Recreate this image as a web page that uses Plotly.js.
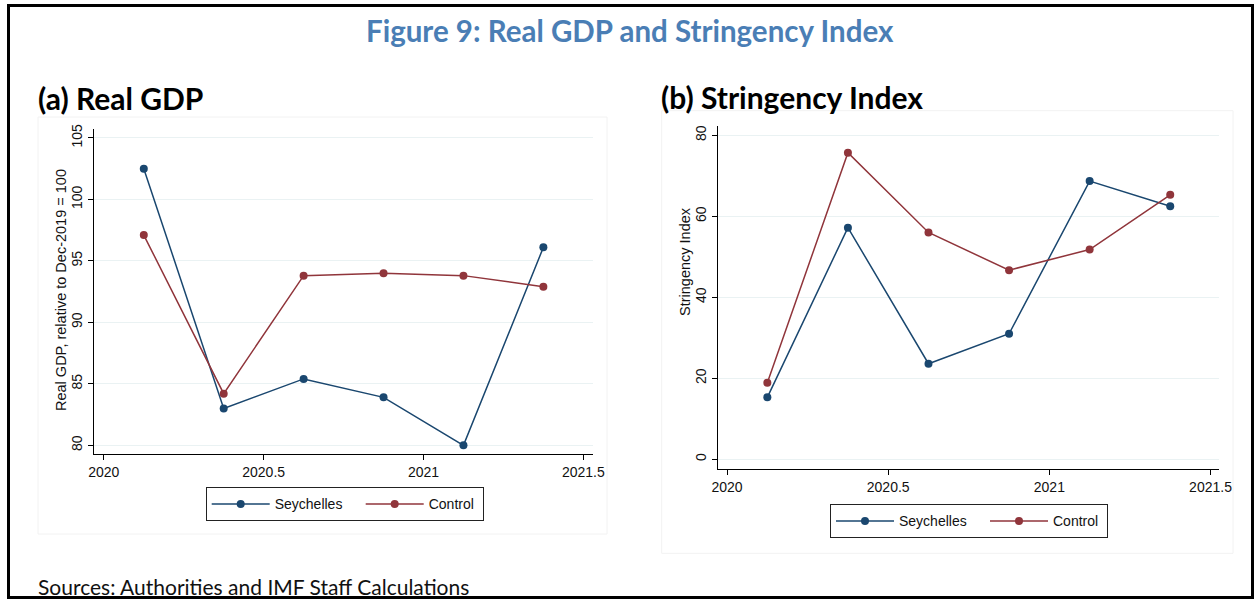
<!DOCTYPE html>
<html>
<head>
<meta charset="utf-8">
<script src="https://cdn.plot.ly/plotly-3.0.1.min.js"></script>
<style>html,body{margin:0;padding:0;background:#fff;overflow:hidden;}#chart{width:1259px;height:599px;}</style>
</head>
<body>
<div id="chart"></div>
<script>
// ---- data ----
const quarters = [2020.125, 2020.375, 2020.625, 2020.875, 2021.125, 2021.375];
const gdpSeychelles = [102.5, 83.0, 85.4, 83.9, 80.0, 96.1];
const gdpControl = [97.1, 84.2, 93.8, 94.0, 93.8, 92.9];
const stringencySeychelles = [15.3, 57.2, 23.6, 31.0, 68.7, 62.5];
const stringencyControl = [18.9, 75.7, 56.0, 46.7, 51.8, 65.3];
const xTicks = [2020, 2020.5, 2021, 2021.5];
const xTickLabels = ['2020', '2020.5', '2021', '2021.5'];
const gdpTicks = [80, 85, 90, 95, 100, 105];
const stringencyTicks = [0, 20, 40, 60, 80];
const seriesNames = ['Seychelles', 'Control'];

// ---- layout helpers ----
const W = 1259, H = 599;
const px = v => v / W;
const py = v => 1 - v / H;
const navy = '#1a476f', maroon = '#90353b';
const tickFont = {family: 'Liberation Sans, Arial, sans-serif', size: 14, color: '#111'};
const legendWidths = [81, 49];

function trace(x, y, i, color, xa, ya, lg) {
  return {x: x, y: y, name: seriesNames[i], type: 'scatter', mode: 'lines+markers',
    line: {color: color, width: 1.5}, marker: {color: color, size: 8},
    legendwidth: legendWidths[i],
    xaxis: xa, yaxis: ya, legend: lg, hoverinfo: 'x+y+name'};
}

const data = [
  trace(quarters, gdpSeychelles, 0, navy, 'x', 'y', 'legend'),
  trace(quarters, gdpControl, 1, maroon, 'x', 'y', 'legend'),
  trace(quarters, stringencySeychelles, 0, navy, 'x2', 'y2', 'legend2'),
  trace(quarters, stringencyControl, 1, maroon, 'x2', 'y2', 'legend2')
];

function xAxis(domain, range, anchor) {
  return {domain: domain, range: range, anchor: anchor, tickmode: 'array',
    tickvals: xTicks, ticktext: xTickLabels, showgrid: false, zeroline: false,
    showline: true, linecolor: '#000', linewidth: 1, ticks: 'outside', ticklen: 5,
    tickcolor: '#000', tickfont: tickFont, fixedrange: true, automargin: false};
}
function yAxis(domain, range, anchor, vals) {
  return {domain: domain, range: range, anchor: anchor, tickmode: 'array',
    tickvals: vals, showgrid: true, gridcolor: '#eaf2f3', gridwidth: 1,
    zeroline: false, showline: true, linecolor: '#000', linewidth: 1,
    ticks: 'outside', ticklen: 5, tickcolor: '#000', tickangle: -90,
    tickfont: tickFont, fixedrange: true, automargin: false};
}

const legendCommon = {orientation: 'h', bordercolor: '#222', borderwidth: 1,
  bgcolor: '#fff', font: {family: 'Liberation Sans, Arial, sans-serif', size: 14, color: '#111'},
  itemwidth: 58, xanchor: 'left', yanchor: 'top', itemclick: false, itemdoubleclick: false};

const layout = {
  width: W, height: H, autosize: false,
  margin: {l: 0, r: 0, t: 0, b: 0, autoexpand: false},
  paper_bgcolor: '#fff', plot_bgcolor: '#fff',
  showlegend: true,
  xaxis: xAxis([px(93.6), px(592.6)], [2019.968, 2021.529], 'y'),
  yaxis: yAxis([py(454.3), py(129.3)], [79.27, 105.7], 'x', gdpTicks),
  xaxis2: xAxis([px(717.7), px(1218.9)], [2019.971, 2021.526], 'y2'),
  yaxis2: yAxis([py(469), py(126)], [-2.4, 82.3], 'x2', stringencyTicks),
  legend: Object.assign({}, legendCommon, {x: px(205.7), y: py(487.3)}),
  legend2: Object.assign({}, legendCommon, {x: px(830), y: py(504.3)}),
  shapes: [
    {type: 'rect', xref: 'paper', yref: 'paper', x0: px(38), x1: px(607), y0: py(534), y1: py(117),
      line: {color: '#f2f2f2', width: 1}, layer: 'below'},
    {type: 'rect', xref: 'paper', yref: 'paper', x0: px(661.7), x1: px(1233), y0: py(553.3), y1: py(110.7),
      line: {color: '#f2f2f2', width: 1}, layer: 'below'},
    {type: 'rect', xref: 'paper', yref: 'paper', x0: px(8.5), x1: px(1252.5), y0: py(597.5), y1: py(5.5),
      line: {color: '#000', width: 3}}
  ],
  annotations: [
    {text: '<b>Figure 9: Real GDP and Stringency Index</b>', xref: 'paper', yref: 'paper',
      x: px(630), y: py(30), xanchor: 'center', yanchor: 'middle', showarrow: false,
      font: {family: 'Lato, sans-serif', size: 29.5, color: '#4a7eb5'}},
    {text: '<b>(a) Real GDP</b>', xref: 'paper', yref: 'paper', x: px(36), y: py(98),
      xanchor: 'left', yanchor: 'middle', showarrow: false,
      font: {family: 'Lato, sans-serif', size: 30, color: '#000'}},
    {text: '<b>(b) Stringency Index</b>', xref: 'paper', yref: 'paper', x: px(659), y: py(97),
      xanchor: 'left', yanchor: 'middle', showarrow: false,
      font: {family: 'Lato, sans-serif', size: 30, color: '#000'}},
    {text: 'Real GDP, relative to Dec-2019 = 100', xref: 'paper', yref: 'paper', x: px(61), y: py(290),
      xanchor: 'center', yanchor: 'middle', textangle: -90, showarrow: false,
      font: {family: 'Liberation Sans, Arial, sans-serif', size: 14.5, color: '#111'}},
    {text: 'Stringency Index', xref: 'paper', yref: 'paper', x: px(685), y: py(261),
      xanchor: 'center', yanchor: 'middle', textangle: -90, showarrow: false,
      font: {family: 'Liberation Sans, Arial, sans-serif', size: 14.5, color: '#111'}},
    {text: 'Sources: Authorities and IMF Staff Calculations', xref: 'paper', yref: 'paper',
      x: px(36), y: py(586), xanchor: 'left', yanchor: 'middle', showarrow: false,
      font: {family: 'Lato, sans-serif', size: 21, color: '#111'}}
  ]
};

Plotly.newPlot('chart', data, layout, {displayModeBar: false});
</script>
</body>
</html>
